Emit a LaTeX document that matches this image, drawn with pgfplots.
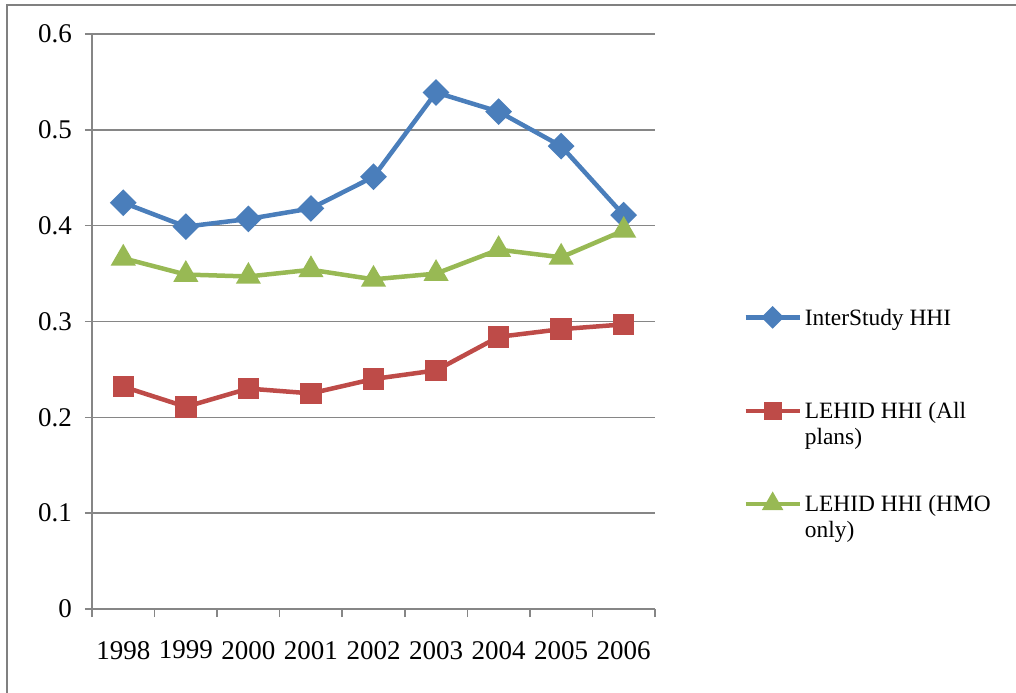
\documentclass[border=0pt]{standalone}
\usepackage{pgfplots}
\pgfplotsset{compat=1.18}
\usepackage{pgfplotstable}
\usepackage{fontspec}
\setmainfont{Liberation Serif}

\definecolor{isblue}{RGB}{74,126,187}
\definecolor{allred}{RGB}{190,75,72}
\definecolor{hmogreen}{RGB}{152,185,84}
\definecolor{gridgray}{RGB}{134,134,134}
\definecolor{framegray}{RGB}{128,128,128}

% HHI by year (idx 0 = 1998 ... 8 = 2006)
\pgfplotstableread{
idx inter  allplans hmo
0   0.424  0.232    0.366
1   0.399  0.211    0.349
2   0.407  0.230    0.347
3   0.418  0.225    0.354
4   0.451  0.240    0.344
5   0.539  0.249    0.350
6   0.519  0.284    0.375
7   0.483  0.292    0.367
8   0.411  0.297    0.395
}\hhidata

\begin{document}
\begin{tikzpicture}[font=\fontsize{11.7}{12.75}\selectfont]
\useasboundingbox (-46pt,-41.5pt) rectangle (462pt,304.5pt);
\draw[framegray,line width=1.2pt] (-42.5pt,-60pt) -- (-42.5pt,302pt) -- (480pt,302pt);
\begin{axis}[
  at={(0pt,0pt)}, anchor=south west,
  scale only axis, width=281.5pt, height=287.5pt,
  xmin=-0.5, xmax=8.5, ymin=0, ymax=0.6,
  axis lines*=left,
  axis line style={gridgray, line width=0.75pt},
  ymajorgrids, grid style={gridgray, line width=0.75pt},
  tick align=outside,
  xtick={0,1,2,3,4,5,6,7,8},
  xticklabels={1998,1999,2000,2001,2002,2003,2004,2005,2006},
  major x tick style={draw=none},
  minor xtick={-0.5,0.5,1.5,2.5,3.5,4.5,5.5,6.5,7.5,8.5},
  minor tick length=4pt,
  minor x tick style={gridgray, line width=0.75pt},
  ytick={0,0.1,0.2,0.3,0.4,0.5,0.6},
  yticklabels={0,0.1,0.2,0.3,0.4,0.5,0.6},
  major tick length=3.5pt,
  major y tick style={gridgray, line width=0.75pt},
  /pgf/number format/assume math mode=true,
  tick label style={font=\fontsize{13.5}{15}\selectfont},
  xticklabel style={anchor=north, yshift=-9pt},
  yticklabel style={anchor=east, xshift=-3pt},
  legend cell align=left,
  legend style={at={(1.1563,0.522)}, anchor=north west, draw=none, fill=none,
    inner sep=0pt, row sep=38.6pt, column sep=1.5pt,
    nodes={inner sep=0pt, text height=8pt, text depth=0pt}},
  legend image code/.code={
    \draw[mark repeat=2,mark phase=2,every mark/.append style={scale=0.8}]
      plot coordinates {(0pt,0pt) (13.5pt,0pt) (27pt,0pt)};},
]
\addplot[isblue, line width=2.25pt, mark=square*, mark size=3.6pt,
  mark options={rotate=45, solid}] table[x=idx, y=inter] {\hhidata};
\addlegendentry{InterStudy HHI}
\addplot[allred, line width=2.25pt, mark=square*, mark size=4.25pt,
  mark options={solid}] table[x=idx, y=allplans] {\hhidata};
\addlegendentry{\vtop{\hbox{LEHID HHI (All}\hbox{plans)}}}
\addplot[hmogreen, line width=2.25pt, mark=triangle*, mark size=5pt,
  mark options={solid}] table[x=idx, y=hmo] {\hhidata};
\addlegendentry{\vtop{\hbox{LEHID HHI (HMO}\hbox{only)}}}
\end{axis}
\end{tikzpicture}
\end{document}
